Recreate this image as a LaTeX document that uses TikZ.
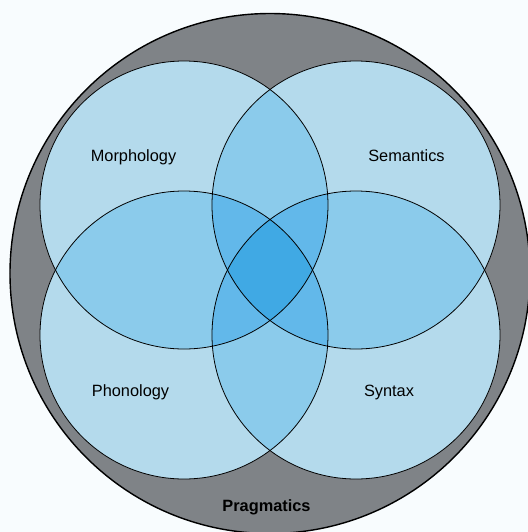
\documentclass[tikz,border=0pt]{standalone}
\usepackage{fontspec}
\setmainfont{Liberation Sans}
\usepackage{tikz}

\definecolor{bgcol}{RGB}{248,252,254}
\definecolor{pragcol}{RGB}{127,131,135}
\definecolor{onecol}{RGB}{180,218,236}
\definecolor{twocol}{RGB}{139,203,235}
\definecolor{threecol}{RGB}{98,184,234}
\definecolor{fourcol}{RGB}{64,169,228}

\newcommand{\petalr}{2.88}

\begin{document}
\begin{tikzpicture}[
		field/.style={font=\fontsize{9.3}{11}\selectfont, anchor=base},
		outline/.style={draw=black, line width=0.45pt}
		]
		
		% Page and background
		\path[use as bounding box, fill=bgcol] (-5.4,-5.24) rectangle (5.16,5.4);
		
		% Pragmatics (outer circle)
		\coordinate (prag) at (0,-0.07);
		\draw[fill=pragcol, line width=0.8pt] (prag) circle (5.2);
		
		% Centres of the four fields
		\foreach \n/\x/\y in {tl/-1.72/1.3, tr/1.72/1.3, bl/-1.72/-1.3, br/1.72/-1.3}
		\coordinate (\n) at (\x,\y);
		
		% One field
		\foreach \a in {tl, tr, bl, br}
		\fill[onecol] (\a) circle (\petalr);
		
		% Two fields
		\foreach \a/\b in {tl/tr, tl/bl, tl/br, tr/bl, tr/br, bl/br}
		{
			\begin{scope}
				\clip (\a) circle (\petalr);
				\fill[twocol] (\b) circle (\petalr);
			\end{scope}
		}
		
		% Three fields
		\foreach \a/\b/\c in {tl/tr/bl, tl/tr/br, tl/bl/br, tr/bl/br}
		{
			\begin{scope}
				\clip (\a) circle (\petalr);
				\clip (\b) circle (\petalr);
				\fill[threecol] (\c) circle (\petalr);
			\end{scope}
		}
		
		% All four fields
		\begin{scope}
			\clip (tl) circle (\petalr);
			\clip (tr) circle (\petalr);
			\clip (bl) circle (\petalr);
			\fill[fourcol] (br) circle (\petalr);
		\end{scope}
		
		% Outlines
		\foreach \a in {tl, tr, bl, br}
		\draw[outline] (\a) circle (\petalr);
		
		% Labels
		\node[field] (morph) at (-2.73,2.17) {Morphology};
		\node[field] (sem) at (2.73,2.17) {Semantics};
		\node[field] (phon) at (-2.79,-2.52) {Phonology};
		\node[field] (syn) at (2.38,-2.52) {Syntax};
		\node[field, font=\fontsize{9.3}{11}\selectfont\bfseries] (pragl) at (-0.07,-4.83) {Pragmatics};
		
	\end{tikzpicture}
\end{document}
